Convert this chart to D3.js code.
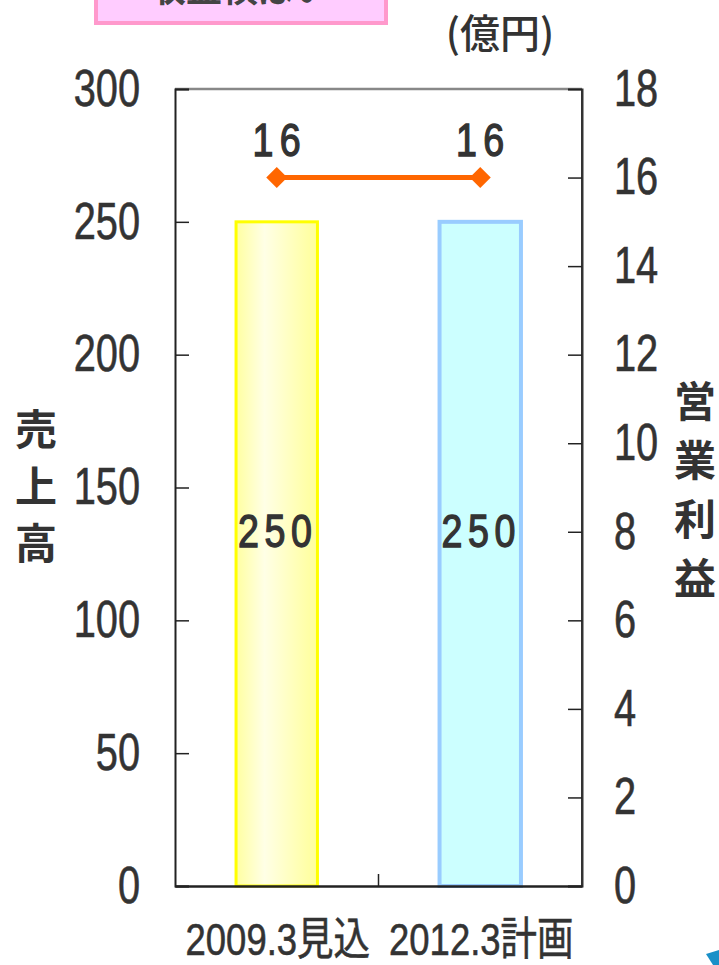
<!DOCTYPE html>
<html>
<head>
<meta charset="utf-8">
<script src="https://cdn.jsdelivr.net/npm/d3@7"></script>
<style>
  html, body { margin: 0; padding: 0; background: #ffffff; }
  svg { display: block; }
</style>
</head>
<body>
<svg id="chart" width="719" height="965"></svg>
<script>
// Sales (left axis, 億円) and operating profit (right axis, 億円)
const categories = ["2009.3見込", "2012.3計画"];
const salesValues = [250, 250];
const profitValues = [16, 16];
const leftTicks = [0, 50, 100, 150, 200, 250, 300];
const rightTicks = [0, 2, 4, 6, 8, 10, 12, 14, 16, 18];
const headline = "収益横ばい";
const unitLabel = "(億円)";
const leftTitle = ["売", "上", "高"];
const rightTitle = ["営", "業", "利", "益"];

const SANS = "'Liberation Sans', 'Noto Sans CJK JP', sans-serif";
const CJK = "'Noto Sans CJK JP', sans-serif";
const INK = "#333333";
const SX = 0.78; // horizontal squeeze for the condensed figures

const svg = d3.select("#chart");
const plot = { left: 175, right: 582, top: 89, bottom: 886 };

const x = d3.scaleBand().domain(categories).range([plot.left, plot.right]).padding(0);
const yL = d3.scaleLinear().domain([0, 300]).range([plot.bottom, plot.top]);
const yR = d3.scaleLinear().domain([0, 18]).range([plot.bottom, plot.top]);
const barW = x.bandwidth() * 0.4;
const cx = c => x(c) + x.bandwidth() / 2;

// condensed text placed at (px, py)
function narrowLabel(g, px, py, txt, size, spacing, sx, weight, thick) {
  return g.append("text")
    .attr("transform", `translate(${px},${py}) scale(${sx},1)`)
    .attr("text-anchor", "middle")
    .attr("font-family", SANS).attr("font-size", size)
    .attr("font-weight", weight)
    .attr("letter-spacing", spacing)
    .attr("fill", INK)
    .attr("stroke", INK).attr("stroke-width", thick)
    .text(txt);
}

const defs = svg.append("defs");
const grad = defs.append("linearGradient").attr("id", "yellowFill")
  .attr("x1", "0%").attr("x2", "100%").attr("y1", "0%").attr("y2", "0%");
grad.append("stop").attr("offset", "0%").attr("stop-color", "#ffffa0");
grad.append("stop").attr("offset", "35%").attr("stop-color", "#ffffe6");
grad.append("stop").attr("offset", "100%").attr("stop-color", "#ffff99");

// headline box, mostly above the visible area
svg.append("rect").attr("x", 96).attr("y", -20).attr("width", 290).attr("height", 43)
  .attr("fill", "#ffccff").attr("stroke", "#ff99cc").attr("stroke-width", 4);
svg.append("text").attr("x", 240).attr("y", 2).attr("text-anchor", "middle")
  .attr("font-family", CJK).attr("font-weight", 700).attr("font-size", 36)
  .attr("fill", "#444").text(headline);

// unit label
svg.append("text").attr("x", 500).attr("y", 48).attr("text-anchor", "middle")
  .attr("font-family", CJK).attr("font-weight", 500).attr("font-size", 40)
  .attr("fill", INK).text(unitLabel);

// bars
const barStyles = [
  { fill: "url(#yellowFill)", stroke: "#ffff00", sw: 3 },
  { fill: "#ccffff", stroke: "#99ccff", sw: 4 }
];
svg.append("g").selectAll("rect").data(categories).join("rect")
  .attr("x", c => cx(c) - barW / 2)
  .attr("y", (c, i) => yL(salesValues[i]))
  .attr("width", barW)
  .attr("height", (c, i) => yL(0) - yL(salesValues[i]))
  .attr("fill", (c, i) => barStyles[i].fill)
  .attr("stroke", (c, i) => barStyles[i].stroke)
  .attr("stroke-width", (c, i) => barStyles[i].sw);

// bar value labels
const barLabels = svg.append("g");
categories.forEach((c, i) => {
  narrowLabel(barLabels, cx(c) + 1, yL(salesValues[i] / 2) - 7, salesValues[i], 47, 7, 0.8, 400, 1.4);
});

// frame
const frame = svg.append("g").attr("fill", "none");
frame.append("line").attr("x1", plot.left).attr("x2", plot.right).attr("y1", plot.top).attr("y2", plot.top)
  .attr("stroke", "#888").attr("stroke-width", 2.5);
frame.append("line").attr("x1", plot.right).attr("x2", plot.right).attr("y1", plot.top).attr("y2", plot.bottom)
  .attr("stroke", "#333").attr("stroke-width", 2);

function squeezeTicks(axis) {
  axis.selectAll(".tick text")
    .attr("font-family", SANS).attr("font-size", 51).attr("fill", INK)
    .attr("stroke", INK).attr("stroke-width", 0.6)
    .attr("x", function () { return +d3.select(this).attr("x") / SX; })
    .attr("transform", `scale(${SX},1)`);
}

// left axis, ticks pointing inward
const axL = svg.append("g").attr("transform", `translate(${plot.left},0)`)
  .call(d3.axisLeft(yL).tickValues(leftTicks).tickSize(-14).tickPadding(35));
axL.select(".domain").attr("stroke", "#222").attr("stroke-width", 2);
axL.selectAll(".tick line").attr("stroke", "#222").attr("stroke-width", 1.5);
squeezeTicks(axL);

// right axis, ticks pointing inward
const axR = svg.append("g").attr("transform", `translate(${plot.right},0)`)
  .call(d3.axisRight(yR).tickValues(rightTicks).tickSize(-14).tickPadding(32));
axR.select(".domain").attr("stroke", "#333").attr("stroke-width", 2);
axR.selectAll(".tick line").attr("stroke", "#222").attr("stroke-width", 1.5);
squeezeTicks(axR);

// bottom axis with category names
const axB = svg.append("g").attr("transform", `translate(0,${plot.bottom})`)
  .call(d3.axisBottom(x).tickSize(0).tickFormat(""));
axB.select(".domain").attr("stroke", "#222").attr("stroke-width", 2.5);
svg.append("line").attr("x1", x(categories[1])).attr("x2", x(categories[1]))
  .attr("y1", plot.bottom).attr("y2", plot.bottom - 12).attr("stroke", "#222").attr("stroke-width", 1.5);
const catLabels = svg.append("g");
categories.forEach(c => {
  narrowLabel(catLabels, cx(c) + 1, 955, c, 45, 0, 0.81, 400, 0.6);
});

// profit line with diamond markers
const line = d3.line().x((d, i) => cx(categories[i])).y(d => yR(d));
svg.append("path").datum(profitValues).attr("d", line)
  .attr("fill", "none").attr("stroke", "#ff6600").attr("stroke-width", 5);
svg.append("g").selectAll("path").data(profitValues).join("path")
  .attr("d", d3.symbol().type(d3.symbolSquare).size(220))
  .attr("transform", (d, i) => `translate(${cx(categories[i])},${yR(d)}) rotate(45)`)
  .attr("fill", "#ff6600");
const lineLabels = svg.append("g");
profitValues.forEach((d, i) => {
  narrowLabel(lineLabels, cx(categories[i]) + 3, yR(d) - 22, d, 47, 8, 0.8, 400, 1.4);
});

// vertical axis titles
svg.append("g").selectAll("text").data(leftTitle).join("text")
  .attr("x", 36).attr("y", (d, i) => 445 + i * 57)
  .attr("text-anchor", "middle")
  .attr("font-family", CJK).attr("font-weight", 700).attr("font-size", 42)
  .attr("fill", INK).text(d => d);
svg.append("g").selectAll("text").data(rightTitle).join("text")
  .attr("x", 695).attr("y", (d, i) => 417 + i * 59)
  .attr("text-anchor", "middle")
  .attr("font-family", CJK).attr("font-weight", 700).attr("font-size", 42)
  .attr("fill", INK).text(d => d);

// corner ornament
svg.append("polygon").attr("points", "706,954 719,950 719,965 713,965").attr("fill", "#1a90c8");
</script>
</body>
</html>
